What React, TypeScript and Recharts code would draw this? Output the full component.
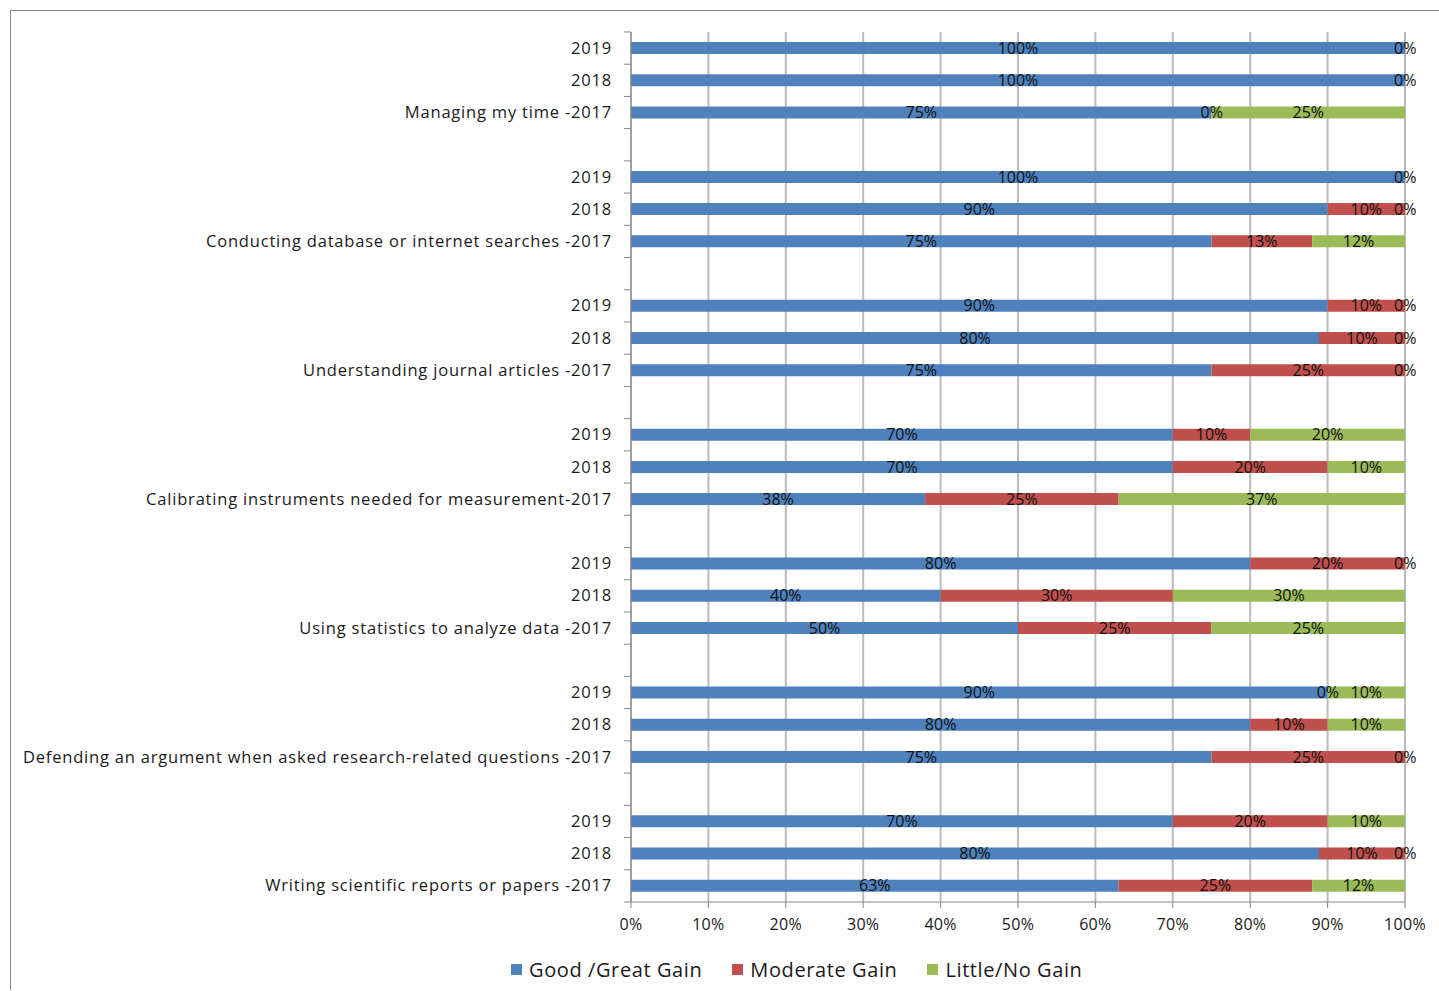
import React from "react";
import { BarChart, Bar, XAxis, YAxis, CartesianGrid, LabelList, Legend, Cell } from "recharts";

// Skill areas, top to bottom, and the survey years shown for each
const skills = [
  "Managing my time",
  "Conducting database or internet searches",
  "Understanding journal articles",
  "Calibrating instruments needed for measurement",
  "Using statistics to analyze data",
  "Defending an argument when asked research-related questions",
  "Writing scientific reports or papers",
];
const years = ["2019", "2018", "2017"];

// Label used for the 2017 row of each skill
const skillYearLabels = [
  "Managing my time -2017",
  "Conducting database or internet searches -2017",
  "Understanding journal articles -2017",
  "Calibrating instruments needed for measurement-2017",
  "Using statistics to analyze data -2017",
  "Defending an argument when asked research-related questions -2017",
  "Writing scientific reports or papers -2017",
];

// Responses (%) per skill, in year order 2019, 2018, 2017
const goodGain = [
  [100, 100, 75],
  [100, 90, 75],
  [90, 80, 75],
  [70, 70, 38],
  [80, 40, 50],
  [90, 80, 75],
  [70, 80, 63],
];
const moderateGain = [
  [0, 0, 0],
  [0, 10, 13],
  [10, 10, 25],
  [10, 20, 25],
  [20, 30, 25],
  [0, 10, 25],
  [20, 10, 25],
];
const littleGain = [
  [0, 0, 25],
  [0, 0, 12],
  [0, 0, 0],
  [20, 10, 37],
  [0, 30, 25],
  [10, 10, 0],
  [10, 0, 12],
];

const xTicks = [0, 0.1, 0.2, 0.3, 0.4, 0.5, 0.6, 0.7, 0.8, 0.9, 1];

const seriesKeys = ["good", "moderate", "little"] as const;
const seriesNames = ["Good /Great Gain", "Moderate Gain", "Little/No Gain"];
const seriesColors = ["#4F81BD", "#C0504D", "#9BBB59"];

type Row = {
  id: number;
  label: string;
  good: number | null;
  moderate: number | null;
  little: number | null;
};

// One row per skill/year, with an empty spacer row between skills
const rows: Row[] = [];
skills.forEach((skill, s) => {
  years.forEach((year, y) => {
    rows.push({
      id: rows.length,
      label: y === 2 ? skillYearLabels[s] : year,
      good: goodGain[s][y],
      moderate: moderateGain[s][y],
      little: littleGain[s][y],
    });
  });
  if (s < skills.length - 1) {
    rows.push({ id: rows.length, label: "", good: null, moderate: null, little: null });
  }
});

const FONT = "'Open Sans', Lato, sans-serif";
const W = 1429;
const H = 980;
const MARGIN = { top: 21, right: 34, bottom: 0, left: 0 };
const Y_AXIS_W = 620;
const X_AXIS_H = 38;
const LEGEND_H = 50;
const PLOT_H = H - MARGIN.top - X_AXIS_H - LEGEND_H;
const HALF_BAND = PLOT_H / rows.length / 2;
const AXIS_GRAY = "#868686";

const CategoryTick = (props: any) => {
  const { x, y, payload } = props;
  const row = rows[payload.value];
  const isLast = payload.value === rows.length - 1;
  return (
    <g>
      <line x1={x - 7} x2={x} y1={y - HALF_BAND} y2={y - HALF_BAND} stroke={AXIS_GRAY} strokeWidth={1} />
      {isLast && (
        <line x1={x - 7} x2={x} y1={y + HALF_BAND} y2={y + HALF_BAND} stroke={AXIS_GRAY} strokeWidth={1} />
      )}
      <text
        x={x - 19}
        y={y}
        dy={-1}
        textAnchor="end"
        dominantBaseline="central"
        fontSize={16.5}
        letterSpacing={0.8}
        fontFamily={FONT}
        fill="#1a1a1a"
      >
        {row ? row.label : ""}
      </text>
    </g>
  );
};

const pct = (v: any) => (v === null || v === undefined ? "" : `${v}%`);

// A zero-valued segment gets a hairline width so its "0%" label is still placed.
// When both trailing segments are zero they share one spot, so only one label is shown.
const zeroWidthFor = (key: (typeof seriesKeys)[number]) => (_v: any, index: number) => {
  const row = rows[index];
  if (!row || row[key] !== 0) return 0;
  if (key === "little" && row.moderate === 0) return 0;
  return 0.5;
};

const LegendContent = () => (
  <div
    style={{
      display: "flex",
      alignItems: "center",
      height: LEGEND_H,
      paddingLeft: 500,
      paddingTop: 8,
      boxSizing: "border-box",
      fontFamily: FONT,
      fontSize: 20,
      letterSpacing: 0.6,
      color: "#1a1a1a",
    }}
  >
    {seriesNames.map((name, i) => (
      <div key={name} style={{ display: "flex", alignItems: "center", marginRight: 30 }}>
        <span
          style={{
            display: "inline-block",
            width: 11,
            height: 11,
            background: seriesColors[i],
            marginRight: 7,
          }}
        />
        <span>{name}</span>
      </div>
    ))}
  </div>
);

const labelStyle = { fontSize: 16, fontFamily: FONT, fill: "#111" };

export default function App() {
  return (
    <div
      style={{
        position: "absolute",
        left: 10,
        top: 10,
        width: W,
        height: H,
        borderLeft: "1px solid #8a8a8a",
        borderTop: "1px solid #8a8a8a",
        boxSizing: "border-box",
        background: "#fff",
      }}
    >
      <BarChart
        width={W - 1}
        height={H - 1}
        data={rows}
        layout="vertical"
        stackOffset="expand"
        margin={MARGIN}
        barSize={12}
      >
        <CartesianGrid horizontal={false} stroke="#BBBBBB" strokeWidth={2} />
        <XAxis
          type="number"
          domain={[0, 1]}
          ticks={xTicks}
          tickFormatter={(v: number) => `${Math.round(v * 100)}%`}
          height={X_AXIS_H}
          tickSize={6}
          tickMargin={11}
          axisLine={{ stroke: AXIS_GRAY }}
          tickLine={{ stroke: AXIS_GRAY }}
          tick={{ fontSize: 16, fontFamily: FONT, fill: "#1a1a1a", letterSpacing: 0.3 }}
          interval={0}
        />
        <YAxis
          type="category"
          dataKey="id"
          width={Y_AXIS_W}
          interval={0}
          tickSize={0}
          tickMargin={0}
          tickLine={false}
          axisLine={{ stroke: AXIS_GRAY }}
          tick={<CategoryTick />}
        />
        <Legend verticalAlign="bottom" height={LEGEND_H} content={<LegendContent />} />
        {seriesKeys.map((key, i) => (
          <Bar
            key={key}
            dataKey={key}
            name={seriesNames[i]}
            stackId="a"
            fill={seriesColors[i]}
            minPointSize={zeroWidthFor(key)}
            isAnimationActive={false}
          >
            {rows.map((row) => (
              <Cell key={row.id} fill={row[key] === 0 ? "transparent" : seriesColors[i]} />
            ))}
            <LabelList dataKey={key} position="center" formatter={pct} style={labelStyle} />
          </Bar>
        ))}
      </BarChart>
    </div>
  );
}
